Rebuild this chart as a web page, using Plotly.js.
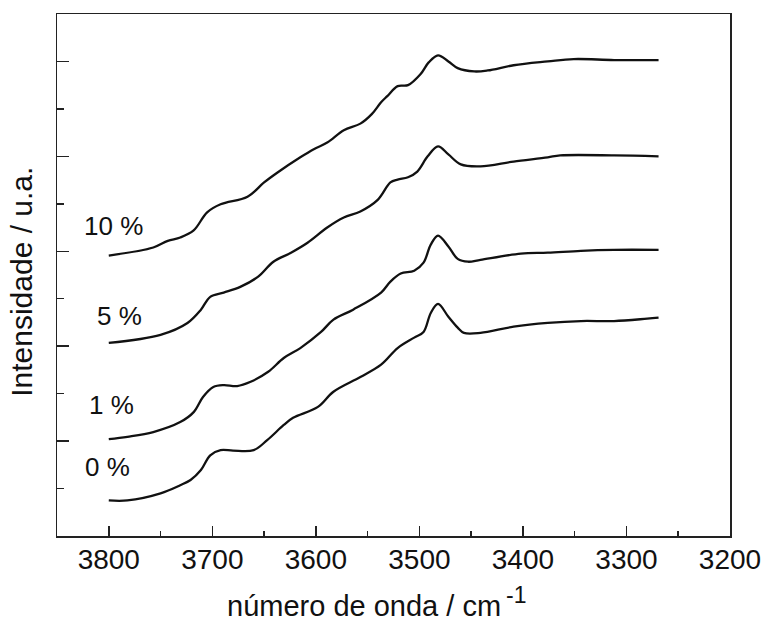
<!DOCTYPE html>
<html>
<head>
<meta charset="utf-8">
<script src="https://cdn.plot.ly/plotly-3.0.1.min.js"></script>
<style>html,body{margin:0;padding:0;background:#fff;}#chart{width:765px;height:626px;}</style>
</head>
<body>
<div id="chart"></div>
<script>
// 0 % sample
const x0 = [3800,3782,3750,3731,3721,3711,3702,3692,3680,3660,3647,3631,3622,3598,3583,3557,3537,3521,3505,3496,3489,3482,3472,3463,3457,3441,3409,3376,3344,3312,3280,3269];
const y0 = [0.75,0.75,0.90,1.07,1.18,1.39,1.70,1.81,1.80,1.81,2.02,2.34,2.49,2.72,3.04,3.35,3.61,3.96,4.18,4.30,4.70,4.89,4.62,4.39,4.28,4.28,4.41,4.49,4.53,4.53,4.58,4.60];
// 1 % sample
const x1 = [3800,3782,3757,3731,3718,3709,3699,3689,3676,3663,3646,3631,3615,3595,3583,3564,3537,3528,3518,3505,3496,3489,3482,3472,3463,3453,3441,3402,3376,3344,3312,3269];
const y1 = [2.04,2.09,2.19,2.40,2.61,2.93,3.14,3.18,3.16,3.25,3.46,3.75,3.96,4.30,4.56,4.77,5.13,5.36,5.53,5.59,5.76,6.14,6.33,6.10,5.84,5.78,5.82,5.95,5.97,6.01,6.03,6.03];
// 5 % sample
const x5 = [3800,3750,3724,3711,3702,3689,3673,3656,3641,3624,3608,3589,3573,3557,3540,3528,3521,3511,3502,3492,3482,3472,3460,3441,3409,3376,3364,3312,3269];
const y5 = [4.07,4.24,4.49,4.77,5.04,5.13,5.25,5.46,5.78,5.97,6.18,6.50,6.71,6.84,7.09,7.45,7.51,7.56,7.68,8.00,8.21,8.04,7.83,7.79,7.89,7.98,8.02,8.02,8.00];
// 10 % sample
const x10 = [3800,3757,3743,3731,3718,3705,3692,3666,3650,3637,3615,3602,3589,3573,3557,3546,3537,3531,3521,3511,3499,3491,3482,3472,3463,3447,3434,3409,3376,3351,3312,3269];
const y10 = [5.91,6.08,6.22,6.29,6.44,6.82,6.99,7.15,7.45,7.66,7.98,8.15,8.29,8.55,8.69,8.89,9.14,9.27,9.48,9.50,9.73,9.98,10.13,10.00,9.86,9.79,9.81,9.92,10.00,10.05,10.03,10.03];

const seriesLabels = ["0 %", "1 %", "5 %", "10 %"];
const xTickVals = [3800,3700,3600,3500,3400,3300,3200];

const font = "Liberation Sans, Arial, Helvetica, sans-serif";
const lineStyle = {color:"#111", width:2.3, shape:"spline", smoothing:1};
const mk = (x,y,name)=>({x:x,y:y,name:name,type:"scatter",mode:"lines",line:lineStyle,hoverinfo:"skip"});

const data = [mk(x0,y0,seriesLabels[0]), mk(x1,y1,seriesLabels[1]), mk(x5,y5,seriesLabels[2]), mk(x10,y10,seriesLabels[3])];

const labelPos = [[3801,1.45],[3797,2.76],[3790,4.64],[3795,6.54]];
const annotations = seriesLabels.map((t,i)=>({x:labelPos[i][0],y:labelPos[i][1],xref:"x",yref:"y",xanchor:"center",yanchor:"middle",text:t,showarrow:false,font:{family:font,size:26,color:"#111"}}));
annotations.push({xref:"paper",yref:"paper",x:0.662,xanchor:"right",y:-0.135,yanchor:"middle",text:"número de onda / cm",showarrow:false,font:{family:font,size:29,color:"#111"}});
annotations.push({xref:"paper",yref:"paper",x:0.664,xanchor:"left",y:-0.113,yanchor:"middle",text:"-1",showarrow:false,font:{family:font,size:23,color:"#111"}});
annotations.push({xref:"paper",yref:"paper",x:-0.052,xanchor:"center",y:0.487,yanchor:"middle",textangle:-90,text:"Intensidade / u.a.",showarrow:false,font:{family:font,size:30,color:"#111"}});

const layout = {
  width:765, height:626,
  margin:{l:57,r:35,t:14,b:90},
  paper_bgcolor:"#fff", plot_bgcolor:"#fff",
  showlegend:false,
  font:{family:font,color:"#111"},
  xaxis:{
    range:[3850,3200], tickmode:"array", tickvals:xTickVals, ticktext:xTickVals.map(String),
    ticks:"inside", ticklen:10, tickwidth:1.5, tickcolor:"#222",
    minor:{tickmode:"linear", tick0:3200, dtick:50, ticks:"inside", ticklen:5, tickwidth:1.5, tickcolor:"#222"},
    showline:true, linecolor:"#222", linewidth:1.5, mirror:true,
    showgrid:false, zeroline:false,
    tickfont:{family:font,size:28,color:"#111"}, ticklabelstandoff:-2
  },
  yaxis:{
    range:[0,11], tickmode:"linear", tick0:0, dtick:2, showticklabels:false,
    ticks:"inside", ticklen:12, tickwidth:1.5, tickcolor:"#222",
    minor:{tickmode:"linear", tick0:1, dtick:2, ticks:"inside", ticklen:7, tickwidth:1.5, tickcolor:"#222"},
    showline:true, linecolor:"#222", linewidth:1.5, mirror:true,
    showgrid:false, zeroline:false
  },
  annotations:annotations
};
Plotly.newPlot("chart", data, layout, {staticPlot:true, displayModeBar:false});
</script>
</body>
</html>
